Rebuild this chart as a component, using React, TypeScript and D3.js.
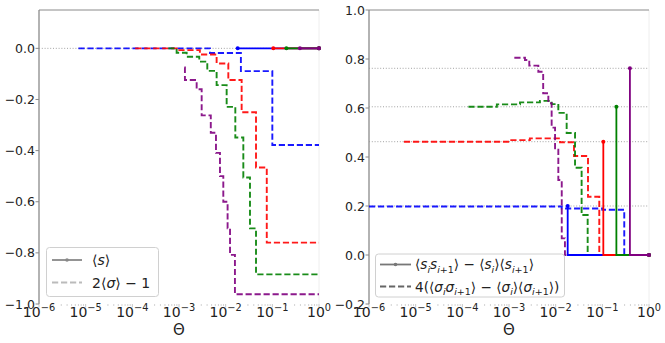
import React from "react";
import * as d3 from "d3";

const W = 665;
const H = 343;
const FONT = "DejaVu Sans";

// axis ticks
const thetaTicks = [1e-6, 1e-5, 1e-4, 1e-3, 1e-2, 1e-1, 1];
const thetaExp = ["−6", "−5", "−4", "−3", "−2", "−1", "0"];
const leftYTicks = [0.0, -0.2, -0.4, -0.6, -0.8, -1.0];
const rightYTicks = [1.0, 0.8, 0.6, 0.4, 0.2, 0.0, -0.2];

// series order: blue, red, green, purple
const seriesColors = ["blue", "red", "green", "purple"];
const critTheta = [0.0181, 0.105, 0.2, 0.39];
const meanS = [0, 0, 0, 0];
const corrPeak = [0.2, 0.4625, 0.605, 0.762];

// 2<sigma>-1 (left, dashed, steps)
const sigBlueT = [7e-6, 4.6e-3, 0.0212, 0.1, 1];
const sigBlueV = [0, -0.018, -0.089, -0.378, -0.378];
const sigRedT = [1.15e-4, 8.9e-4, 2.8e-3, 6.4e-3, 0.0114, 0.022, 0.0447, 0.076, 1];
const sigRedV = [0, -0.007, -0.024, -0.059, -0.124, -0.25, -0.466, -0.76, -0.76];
const sigGreenT = [5.9e-4, 8.9e-4, 1.46e-3, 2.72e-3, 4.04e-3, 6.4e-3, 0.0105, 0.0161, 0.0239, 0.0332, 0.0447, 1];
const sigGreenV = [0, -0.017, -0.033, -0.052, -0.088, -0.144, -0.229, -0.349, -0.505, -0.704, -0.884, -0.884];
const sigPurpleT = [1.3e-3, 1.34e-3, 2.39e-3, 3.06e-3, 4.8e-3, 6.2e-3, 7.55e-3, 8.9e-3, 0.011, 0.0124, 0.0158, 1];
const sigPurpleV = [-0.075, -0.124, -0.16, -0.262, -0.33, -0.409, -0.5, -0.6, -0.704, -0.808, -0.962, -0.962];

// 4(<sigma_i sigma_i+1> - <sigma_i><sigma_i+1>) (right, dashed, steps)
const corBlueT = [1e-6, 0.0135, 0.1, 0.295, 1];
const corBlueV = [0.198, 0.19, 0.185, 0, 0];
const corRedT = [5.6e-6, 1.05e-3, 2.8e-3, 0.0124, 0.0247, 0.0493, 0.086, 1];
const corRedV = [0.4625, 0.469, 0.476, 0.46, 0.404, 0.238, 0, 0];
const corGreenT = [1.35e-4, 5.5e-4, 1.72e-3, 4.6e-3, 8.2e-3, 0.0114, 0.0172, 0.026, 0.036, 0.0485, 1];
const corGreenV = [0.605, 0.615, 0.623, 0.629, 0.616, 0.58, 0.498, 0.356, 0.163, 0, 0];
const corPurpleT = [1.3e-3, 2.2e-3, 2.72e-3, 4.25e-3, 5.4e-3, 6.97e-3, 8.2e-3, 9.7e-3, 0.0114, 0.0135, 0.0158, 1];
const corPurpleV = [0.805, 0.796, 0.773, 0.748, 0.66, 0.62, 0.52, 0.43, 0.306, 0.068, 0, 0];

const sigSeries = [
  [sigBlueT, sigBlueV],
  [sigRedT, sigRedV],
  [sigGreenT, sigGreenV],
  [sigPurpleT, sigPurpleV],
];
const corSeries = [
  [corBlueT, corBlueV],
  [corRedT, corRedV],
  [corGreenT, corGreenV],
  [corPurpleT, corPurpleV],
];

type Pt = [number, number];
type Piece = { t: string; i?: boolean; sub?: boolean };

const DASH = "6.2,2.8";
const zip = (t: number[], v: number[]): Pt[] => t.map((d, i) => [d, v[i]]);

function MathText({ x, y, size, pieces }: { x: number; y: number; size: number; pieces: Piece[] }) {
  let cur = 0;
  return (
    <text x={x} y={y} fontSize={size} fontFamily={FONT} fill="#222">
      {pieces.map((p, k) => {
        const target = p.sub ? size * 0.28 : 0;
        const dy = target - cur;
        cur = target;
        return (
          <tspan key={k} dy={dy} fontSize={p.sub ? size * 0.7 : size} fontStyle={p.i ? "italic" : "normal"}>
            {p.t}
          </tspan>
        );
      })}
    </text>
  );
}

function Panel({
  left, yDomain, yTicks, dashed, solid, refLines,
}: {
  left: number;
  yDomain: [number, number];
  yTicks: number[];
  dashed: Pt[][];
  solid: Pt[][];
  refLines: number[];
}) {
  const right = left + 280;
  const top = 10;
  const bottom = 304;
  const x = d3.scaleLog().domain([1e-6, 1]).range([left, right]);
  const y = d3.scaleLinear().domain(yDomain).range([bottom, top]);
  const line = d3.line<Pt>().x((d) => x(d[0])).y((d) => y(d[1]));
  const stepLine = d3.line<Pt>().x((d) => x(d[0])).y((d) => y(d[1])).curve(d3.curveStepAfter);

  const minor: number[] = [];
  for (let k = -6; k < 0; k++) for (let m = 2; m < 10; m++) minor.push(m * Math.pow(10, k));

  return (
    <g>
      {/* spines */}
      <line x1={right} x2={right} y1={top} y2={bottom} stroke="#eeeeee" />
      <line x1={left} x2={right} y1={top} y2={top} stroke="#8a8a8a" />
      <line x1={left} x2={left} y1={top} y2={bottom} stroke="#8a8a8a" strokeWidth={1.3} />

      {/* x ticks */}
      {minor.map((t, i) => (
        <line key={"m" + i} x1={x(t)} x2={x(t)} y1={bottom} y2={bottom + 2} stroke="#c8c8c8" strokeWidth={0.8} />
      ))}
      {thetaTicks.map((t, i) => (
        <g key={"x" + i}>
          <line x1={x(t)} x2={x(t)} y1={bottom} y2={bottom + 3.5} stroke="#c8c8c8" />
          <text x={x(t)} y={bottom + 13} textAnchor="middle" fontFamily={FONT} fontSize={14} fill="#222">
            10
            <tspan dy={-6} fontSize={9.8}>{thetaExp[i]}</tspan>
          </text>
        </g>
      ))}
      <text x={(left + right) / 2} y={335} textAnchor="middle" fontFamily={FONT} fontSize={15} fill="#222">
        Θ
      </text>

      {/* y ticks */}
      {yTicks.map((t, i) => (
        <g key={"y" + i}>
          <line x1={left - 3.5} x2={left} y1={y(t)} y2={y(t)} stroke="#8a8a8a" />
          <text x={left - 4} y={y(t)} dy="0.36em" textAnchor="end" fontFamily={FONT} fontSize={12.5} fill="#222">
            {d3.format(".1f")(t).replace("-", "−")}
          </text>
        </g>
      ))}

      {/* reference dotted lines */}
      {refLines.map((v, i) => (
        <line key={"r" + i} x1={left} x2={right} y1={y(v)} y2={y(v)} stroke="#999" strokeWidth={0.9} strokeDasharray="1,1.8" />
      ))}

      {/* dashed steps */}
      {dashed.map((pts, i) => (
        <path key={"d" + i} d={stepLine(pts) || ""} fill="none" stroke={seriesColors[i]} strokeWidth={1.9}
          strokeDasharray={DASH} opacity={0.9} />
      ))}

      {/* solid with markers */}
      {solid.map((pts, i) => (
        <g key={"s" + i}>
          <path d={line(pts) || ""} fill="none" stroke={seriesColors[i]} strokeWidth={1.8} />
          <circle cx={x(pts[0][0])} cy={y(pts[0][1])} r={2} fill={seriesColors[i]} />
          <circle cx={x(pts[pts.length - 1][0])} cy={y(pts[pts.length - 1][1])} r={2} fill={seriesColors[i]} />
        </g>
      ))}
    </g>
  );
}

export default function App() {
  const leftDashed = sigSeries.map(([t, v]) => zip(t, v));
  const leftSolid = critTheta.map((c, i) => [[c, meanS[i]], [1, meanS[i]]] as Pt[]);
  const rightDashed = corSeries.map(([t, v]) => zip(t, v));
  const rightSolid = critTheta.map((c, i) => [[c, corrPeak[i]], [c, 0], [1, 0]] as Pt[]);

  const sub = (t: string, i = false): Piece => ({ t, sub: true, i });
  const ssEntry: Piece[] = [
    { t: "⟨" }, { t: "s", i: true }, sub("i", true), { t: "s", i: true }, sub("i", true), sub("+1"), { t: "⟩ − ⟨" },
    { t: "s", i: true }, sub("i", true), { t: "⟩⟨" }, { t: "s", i: true }, sub("i", true), sub("+1"), { t: "⟩" },
  ];
  const sigEntry: Piece[] = [
    { t: "4(⟨" }, { t: "σ", i: true }, sub("i", true), { t: "σ", i: true }, sub("i", true), sub("+1"), { t: "⟩ − ⟨" },
    { t: "σ", i: true }, sub("i", true), { t: "⟩⟨" }, { t: "σ", i: true }, sub("i", true), sub("+1"), { t: "⟩)" },
  ];

  return (
    <svg width={W} height={H} style={{ position: "absolute", left: 0, top: 0, background: "white" }}>
      <Panel left={39} yDomain={[-1.0, 0.15]} yTicks={leftYTicks} dashed={leftDashed} solid={leftSolid} refLines={[0]} />
      <Panel left={369} yDomain={[-0.2, 1.0]} yTicks={rightYTicks} dashed={rightDashed} solid={rightSolid}
        refLines={corrPeak} />

      {/* left legend */}
      <g>
        <rect x={46.5} y={247.5} width={112} height={49} rx={3} fill="white" fillOpacity={0.8} stroke="#d0d0d0" />
        <line x1={52} x2={82} y1={260} y2={260} stroke="#888" strokeWidth={1.8} />
        <circle cx={67} cy={260} r={1.8} fill="#888" />
        <line x1={52} x2={82} y1={282.5} y2={282.5} stroke="#bbb" strokeWidth={1.8} strokeDasharray={DASH} />
        <MathText x={92} y={265} size={14} pieces={[{ t: "⟨" }, { t: "s", i: true }, { t: "⟩" }]} />
        <MathText x={92} y={287.5} size={14} pieces={[{ t: "2⟨" }, { t: "σ", i: true }, { t: "⟩ − 1" }]} />
      </g>

      {/* right legend */}
      <g>
        <rect x={375.5} y={254} width={189} height={43} rx={3} fill="white" fillOpacity={0.8} stroke="#d0d0d0" />
        <line x1={380} x2={411} y1={264.5} y2={264.5} stroke="#777" strokeWidth={1.8} />
        <circle cx={395.5} cy={264.5} r={1.8} fill="#777" />
        <line x1={380} x2={411} y1={286.5} y2={286.5} stroke="#666" strokeWidth={1.8} strokeDasharray={DASH} />
        <MathText x={415} y={269} size={13.6} pieces={ssEntry} />
        <MathText x={415} y={291.5} size={13.6} pieces={sigEntry} />
      </g>
    </svg>
  );
}
